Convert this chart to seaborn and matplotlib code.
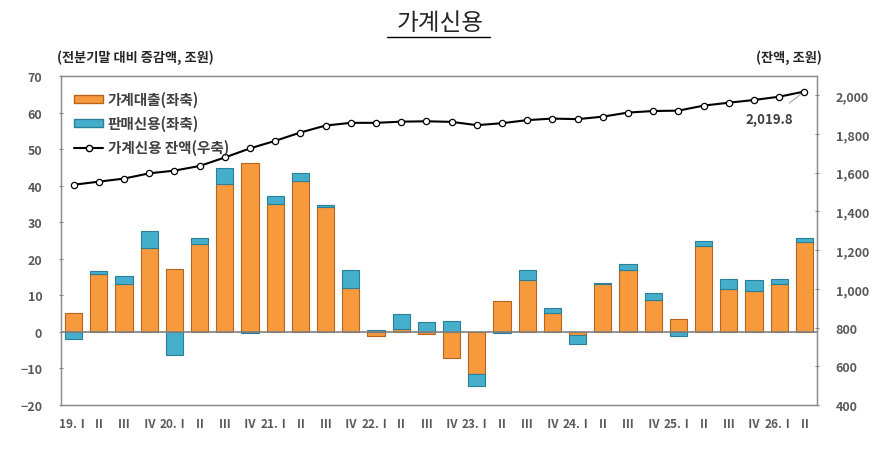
import numpy as np
import matplotlib
matplotlib.use("Agg")
import matplotlib.pyplot as plt
import seaborn as sns
from matplotlib.patches import Patch
from matplotlib.lines import Line2D

# --- datos ---
quarters = ['19.Ⅰ', 'Ⅱ', 'Ⅲ', 'Ⅳ', '20.Ⅰ', 'Ⅱ', 'Ⅲ', 'Ⅳ', '21.Ⅰ', 'Ⅱ', 'Ⅲ', 'Ⅳ',
            '22.Ⅰ', 'Ⅱ', 'Ⅲ', 'Ⅳ', '23.Ⅰ', 'Ⅱ', 'Ⅲ', 'Ⅳ', '24.Ⅰ', 'Ⅱ', 'Ⅲ', 'Ⅳ',
            '25.Ⅰ', 'Ⅱ', 'Ⅲ', 'Ⅳ', '26.Ⅰ', 'Ⅱ']
loans = [5.2, 15.9, 13.1, 23.0, 17.2, 24.0, 40.5, 46.3, 35.0, 41.2, 34.3, 11.9,
         -1.0, 0.7, -0.5, -7.2, -11.5, 8.4, 14.2, 5.2, -0.9, 13.2, 16.8, 8.7,
         3.6, 23.6, 11.6, 11.2, 13.2, 24.7]
sales_credit = [-1.9, 0.8, 2.2, 4.6, -6.4, 1.6, 4.3, -0.3, 2.1, 2.3, 0.3, 5.1,
                0.5, 4.3, 2.8, 3.1, -3.2, -0.4, 2.6, 1.3, -2.5, 0.1, 1.7, 1.9,
                -1.1, 1.3, 2.9, 2.9, 1.3, 1.1]
balance = [1538, 1554, 1570, 1597, 1611, 1635, 1679, 1726, 1765, 1808, 1844, 1858,
           1858, 1864, 1866, 1863, 1846, 1856, 1872, 1880, 1877, 1890, 1911, 1919,
           1921, 1947, 1962, 1976, 1993, 2019.8]

loans_arr = np.array(loans)
sales_arr = np.array(sales_credit)
# apilado estilo Excel: mismo signo se apila, signo contrario parte de cero
bottoms = np.where(np.sign(sales_arr) == np.sign(loans_arr), loans_arr, 0.0)

sns.set_style("white")
plt.rcParams['font.family'] = ['Noto Sans CJK KR', 'DejaVu Sans']

orange = '#F79A3E'
orange_edge = '#B8641F'
teal = '#45AFCB'
teal_edge = '#2A7F96'
grey_txt = '#595959'

fig = plt.figure(figsize=(8.91, 4.6), dpi=100)
ax = fig.add_axes([61 / 891, 1 - 406 / 460, 756 / 891, 329 / 460])

x = np.arange(len(quarters))
sns.barplot(x=x, y=loans, color=orange, width=0.68, edgecolor=orange_edge,
            linewidth=0.8, saturation=1, ax=ax, zorder=2)
ax.bar(x, sales_arr, bottom=bottoms, width=0.68, color=teal, edgecolor=teal_edge,
       linewidth=0.8, zorder=2)
ax.axhline(0, color='#808080', lw=1.2, zorder=3)

ax.set_xlim(-0.5, len(quarters) - 0.5)
ax.set_ylim(-20, 70)
ax.set_yticks(range(-20, 71, 10))
ax.set_xticks(x)
ax.set_xticklabels(quarters)
ax.set_xlabel('')
ax.tick_params(axis='x', length=0, pad=9, labelsize=8.5, labelcolor=grey_txt)
ax.tick_params(axis='y', length=3, direction='inout', pad=12, labelsize=9,
               labelcolor=grey_txt, color='#808080')
for lab in ax.get_xticklabels() + ax.get_yticklabels():
    lab.set_fontweight('bold')
for sp in ax.spines.values():
    sp.set_color('#8c8c8c')
    sp.set_linewidth(1)

# --- eje derecho ---
ax2 = ax.twinx()
sns.lineplot(x=x, y=balance, color='black', lw=1.5, marker='o', markersize=4.5,
             markerfacecolor='white', markeredgecolor='black', markeredgewidth=0.9,
             ax=ax2, zorder=4)
ax2.set_ylim(400, 2100)
ax2.set_yticks(range(400, 2001, 200))
ax2.set_yticklabels([f'{v:,}' for v in range(400, 2001, 200)])
ax2.tick_params(axis='y', length=3, direction='inout', pad=12, labelsize=9,
                labelcolor=grey_txt, color='#808080')
for lab in ax2.get_yticklabels():
    lab.set_fontweight('bold')
for sp in ax2.spines.values():
    sp.set_color('#8c8c8c')
ax2.annotate(f'{balance[-1]:,.1f}', xy=(x[-1], balance[-1]), xytext=(x[-1] - 1.4, 1880),
             ha='center', va='center', fontsize=9.5, fontweight='bold', color='#404040',
             arrowprops=dict(arrowstyle='-', color='#a6a6a6', lw=0.8, shrinkA=6, shrinkB=3))

# --- leyenda ---
handles = [Patch(facecolor=orange, edgecolor=orange_edge),
           Patch(facecolor=teal, edgecolor=teal_edge),
           Line2D([], [], color='black', lw=1.5, marker='o', markersize=4.5,
                  markerfacecolor='white', markeredgecolor='black')]
labels = ['가계대출(좌축)', '판매신용(좌축)', '가계신용 잔액(우축)']
leg = ax2.legend(handles, labels, loc='upper left', bbox_to_anchor=(0.0, 0.995),
                 frameon=False, fontsize=10.5, handlelength=2.0, handleheight=0.45,
                 labelspacing=0.55, handletextpad=0.3)
for t in leg.get_texts():
    t.set_color('#404040')
    t.set_fontweight('bold')

# --- títulos ---
fig.text(440 / 891, 1 - 23 / 460, '가계신용', ha='center', va='center', fontsize=17)
fig.add_artist(Line2D([387 / 891, 490 / 891], [1 - 38 / 460, 1 - 38 / 460],
                      color='black', lw=1))
fig.text(57 / 891, 1 - 58 / 460, '(전분기말 대비 증감액, 조원)', ha='left', va='center',
         fontsize=9.5, fontweight='bold', color='#262626')
fig.text(822 / 891, 1 - 58 / 460, '(잔액, 조원)', ha='right', va='center',
         fontsize=9.5, fontweight='bold', color='#262626')

fig.savefig('out.png', dpi=100)
